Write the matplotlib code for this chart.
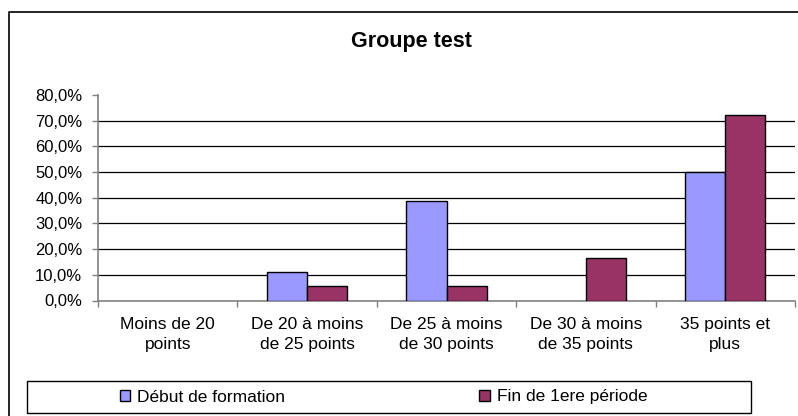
import matplotlib.pyplot as plt
from matplotlib.lines import Line2D
from matplotlib.patches import Rectangle, Patch
import numpy as np

plt.rcParams['font.family'] = ['Liberation Sans', 'DejaVu Sans']

categories = ["Moins de 20\npoints", "De 20 à moins\nde 25 points", "De 25 à moins\nde 30 points",
              "De 30 à moins\nde 35 points", "35 points et\nplus"]
debut = [0.0, 11.1, 38.9, 0.0, 50.0]
fin = [0.0, 5.6, 5.6, 16.7, 72.2]
series_names = ["Début de formation", "Fin de 1ere période"]
yticks = [0, 10, 20, 30, 40, 50, 60, 70, 80]
colors = ['#9999FF', '#993366']

fig = plt.figure(figsize=(7.98, 4.16), dpi=100)
ax = fig.add_axes([98/798, 1 - 300.5/416, 697/798, 205.5/416])

x = np.arange(len(categories))
w = 0.287
# no outline for empty bars
lw1 = [1 if v > 0 else 0 for v in debut]
lw2 = [1 if v > 0 else 0 for v in fin]
ax.bar(x - w/2, debut, w, color=colors[0], edgecolor='black', linewidth=lw1, zorder=3)
ax.bar(x + w/2, fin, w, color=colors[1], edgecolor='black', linewidth=lw2, zorder=3)

ax.set_xlim(-0.5, 4.5)
ax.set_ylim(0, 80)
ax.set_yticks(yticks)
ax.set_yticklabels([f"{v:.1f}%".replace('.', ',') for v in yticks], fontsize=12)
for v in yticks[1:-1]:
    ax.axhline(v, color='black', linewidth=0.9, zorder=1)

ax.set_xticks(x)
ax.set_xticklabels(categories, fontsize=12.5, linespacing=1.4)
ax.set_xticks(np.arange(-0.5, 5, 1), minor=True)
ax.tick_params(axis='x', which='major', length=0, pad=12)
ax.tick_params(axis='x', which='minor', length=4, color='#808080', width=1)
ax.tick_params(axis='y', length=4.3, color='#808080', width=1, pad=7)

for s in ['top', 'right']:
    ax.spines[s].set_visible(False)
for s in ['left', 'bottom']:
    ax.spines[s].set_color('#808080')
    ax.spines[s].set_linewidth(1.2)

fig.text(411/798, 1 - 41/416, "Groupe test", ha='center', va='center',
         fontsize=15.5, fontweight='bold')

# outer chart frame (cut off at right and bottom)
fig.add_artist(Line2D([9/798, 9/798, 1.0], [0.0, 1 - 12/416, 1 - 12/416],
                      transform=fig.transFigure, color='black', linewidth=1.2))

# legend box
fig.add_artist(Rectangle((27/798, 1 - 413/416), 724/798, 32/416, transform=fig.transFigure,
                         fill=False, edgecolor='black', linewidth=1))
handles = [Patch(facecolor=c, edgecolor='black', linewidth=1) for c in colors]
leg = fig.legend(handles, series_names, loc='center left', ncol=2,
                 bbox_to_anchor=(104/798, 1 - 397/416), frameon=False, fontsize=12.5,
                 handlelength=0.6, handleheight=0.6, handletextpad=0.4,
                 columnspacing=11.2)

fig.savefig("out.png", dpi=100)
